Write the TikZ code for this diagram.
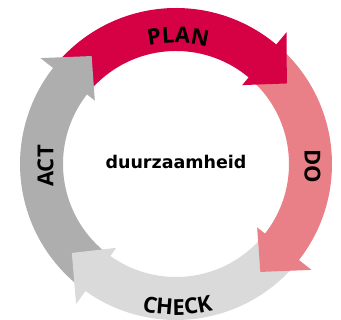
\documentclass[tikz,border=0pt]{standalone}
\usepackage{fontspec}
\usetikzlibrary{decorations.text}
\newfontfamily\opensans{Open Sans}
\newfontfamily\dejavu{DejaVu Sans}
\newcommand\labfont{\opensans\bfseries\fontsize{22pt}{24pt}\selectfont}
\definecolor{planred}{RGB}{214,0,68}
\definecolor{dopink}{RGB}{234,128,135}
\definecolor{checkgray}{RGB}{218,218,218}
\definecolor{actgray}{RGB}{174,174,174}
\newcommand\ringband[3]{\fill[#1] (#2:156pt) arc[start angle=#2, end angle=#3, radius=156pt] -- (#3:113pt) arc[start angle=#3, end angle=#2, radius=113pt] -- cycle;}
\newcommand\ringhead[2]{\fill[#1] (#2:137pt) -- ({#2+14}:103pt) -- ({#2+14}:172pt) -- cycle;}
\tikzset{
  planfill/.style={fill=planred},
  dofill/.style={fill=dopink},
  checkfill/.style={fill=checkgray},
  actfill/.style={fill=actgray},
  phaselabel/.style={font=\labfont, text=black, inner sep=0pt},
  centerlabel/.style={font=\dejavu\bfseries\fontsize{17.5pt}{20pt}\selectfont, text=black, inner sep=0pt}
}
\begin{document}
\begin{tikzpicture}[x=1pt,y=1pt]
\useasboundingbox (0,0) rectangle (341,320);
\coordinate (C) at (176,156);
\begin{scope}[shift={(C)}]
  % bands
  \ringband{actfill}{232.5}{141}
  \ringband{planfill}{140}{49}
  \ringband{dofill}{48}{-39}
  \ringband{checkfill}{-40}{-126.5}
  % arrowheads
  \ringhead{actfill}{128}
  \ringhead{planfill}{36}
  \ringhead{dofill}{-52}
  \ringhead{checkfill}{220.5}
  % curved labels
  \path[decorate, decoration={text along path, text={|\labfont|PLAN}, text align=center}]
    (119:121pt) arc[start angle=119, end angle=59, radius=121pt];
  \path[decorate, decoration={text along path, text={|\labfont|CHECK}, text align=center}]
    (240.6:151pt) arc[start angle=240.6, end angle=300.6, radius=151pt];
\end{scope}
\node[phaselabel, rotate=-90] (do) at (312.5,153.5) {DO};
\node[phaselabel, rotate=90] (act) at (45.5,154) {ACT};
\node[centerlabel, anchor=base] (center) at (176,151.7) {duurzaamheid};
\end{tikzpicture}
\end{document}
